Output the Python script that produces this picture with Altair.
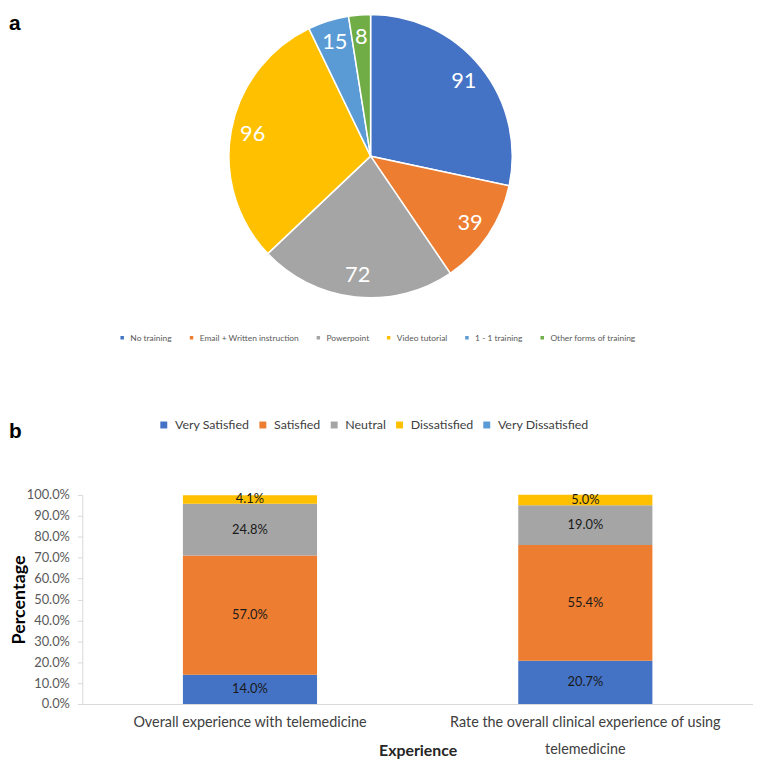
import altair as alt
import pandas as pd

FONT = "Lato"

# ---- panel a: training pie ----
training = ["No training", "Email + Written instruction", "Powerpoint",
            "Video tutorial", "1 - 1 training", "Other forms of training"]
training_counts = [91, 39, 72, 96, 15, 8]
training_colors = ["#4472C4", "#ED7D31", "#A5A5A5", "#FFC000", "#5B9BD5", "#70AD47"]

# ---- panel b: satisfaction stacked bars ----
questions = ["Overall experience with telemedicine",
             "Rate the overall clinical experience of using telemedicine"]
ratings = ["Very Satisfied", "Satisfied", "Neutral", "Dissatisfied", "Very Dissatisfied"]
rating_colors = ["#4472C4", "#ED7D31", "#A5A5A5", "#FFC000", "#5B9BD5"]
q1_pct = [14.0, 57.0, 24.8, 4.1, 0.0]
q2_pct = [20.7, 55.4, 19.0, 5.0, 0.0]
y_ticks = [0.0, 0.1, 0.2, 0.3, 0.4, 0.5, 0.6, 0.7, 0.8, 0.9, 1.0]

pie_df = pd.DataFrame({"Training": training, "Count": training_counts,
                       "Order": list(range(len(training)))})

rows = []
for q, vals in zip(questions, [q1_pct, q2_pct]):
    for i, (r, v) in enumerate(zip(ratings, vals)):
        rows.append({"Question": q, "Rating": r, "RatingOrder": i, "Value": v / 100.0})
bar_df = pd.DataFrame(rows)

CX, CY, R = 291, 143, 143

pie_base = alt.Chart(pie_df).encode(
    theta=alt.Theta("Count:Q", stack=True),
    order=alt.Order("Order:Q"),
)
arcs = pie_base.mark_arc(outerRadius=R, stroke="white", strokeWidth=1.5).encode(
    x=alt.value(CX), y=alt.value(CY),
    color=alt.Color("Training:N", sort=training,
                    scale=alt.Scale(domain=training, range=training_colors),
                    legend=alt.Legend(title=None, orient="none", direction="horizontal",
                                      columns=6, legendX=36, legendY=322,
                                      symbolType="square", symbolSize=25,
                                      labelFontSize=8.5, labelColor="#595959",
                                      labelFont=FONT, columnPadding=13, padding=0,
                                      labelOffset=4)),
)
pie_labels = pie_base.mark_text(radius=121, fontSize=22, font=FONT, color="white").encode(
    x=alt.value(CX), y=alt.value(CY), text=alt.Text("Count:Q"),
)
tag_a = alt.Chart(alt.Data(values=[{"t": "a"}])).mark_text(
    text="a", fontSize=21, fontWeight="bold", font="Liberation Sans", align="left",
    baseline="alphabetic", color="#000").encode(x=alt.value(-74), y=alt.value(16))
tag_b = alt.Chart(alt.Data(values=[{"t": "b"}])).mark_text(
    text="b", fontSize=21, fontWeight="bold", font="Liberation Sans", align="left",
    baseline="alphabetic", color="#000").encode(x=alt.value(-74), y=alt.value(427))

panel_a = alt.layer(arcs, pie_labels, tag_a, tag_b).properties(width=677, height=485)

x_axis = alt.Axis(title="Experience", titleFont=FONT, titleFontSize=16,
                  titleFontWeight="bold", titleColor="#262626",
                  titleBaseline="middle", titleY=47,
                  labelAngle=0, labelFont=FONT, labelFontSize=14.5,
                  labelColor="#404040", labelPadding=12, labelLineHeight=27,
                  labelBaseline="top", ticks=False, domainColor="#D9D9D9",
                  labelExpr="datum.value == 'Rate the overall clinical experience of using telemedicine' ? ['Rate the overall clinical experience of using', 'telemedicine'] : datum.value",
                  labelLimit=400)
y_axis = alt.Axis(title="Percentage", titleFont=FONT, titleFontSize=18,
                  titleFontWeight="bold", titleColor="#000",
                  titleX=-63, titleY=105.5, titleBaseline="middle",
                  titleAlign="center", titleAngle=-90,
                  format=".1%", values=y_ticks, tickCount=11,
                  labelOverlap=False,
                  labelFont=FONT, labelFontSize=13, labelColor="#595959",
                  labelPadding=8, tickSize=5, tickColor="#D9D9D9",
                  domainColor="#D9D9D9", grid=False)
x_scale = alt.Scale(paddingInner=0.6, paddingOuter=0.3)
y_scale = alt.Scale(domain=[0, 1], nice=False)

bars = alt.Chart(bar_df).mark_bar().encode(
    x=alt.X("Question:N", sort=questions, scale=x_scale, axis=x_axis),
    y=alt.Y("Value:Q", stack="zero", scale=y_scale, axis=y_axis),
    color=alt.Color("Rating:N", sort=ratings,
                    scale=alt.Scale(domain=ratings, range=rating_colors),
                    legend=alt.Legend(title=None, orient="none", direction="horizontal",
                                      columns=5, legendX=76, legendY=-77,
                                      symbolType="square", symbolSize=49,
                                      labelFontSize=12.5, labelColor="#404040",
                                      labelFont=FONT, columnPadding=7, padding=0,
                                      labelOffset=5)),
    order=alt.Order("RatingOrder:Q"),
)

bar_text = alt.Chart(bar_df).transform_filter("datum.Value > 0").transform_stack(
    stack="Value", groupby=["Question"], as_=["y0", "y1"],
    sort=[alt.SortField("RatingOrder", order="ascending")]
).transform_calculate(mid="(datum.y0 + datum.y1) / 2").mark_text(
    fontSize=13, font=FONT, color="#1a1a1a"
).encode(
    x=alt.X("Question:N", sort=questions, scale=x_scale, axis=x_axis),
    y=alt.Y("mid:Q", scale=y_scale, axis=y_axis),
    text=alt.Text("Value:Q", format=".1%"),
)

panel_b = alt.layer(bars, bar_text).properties(width=677, height=211)

chart = alt.vconcat(panel_a, panel_b, spacing=0, bounds="flush").resolve_scale(
    color="independent", theta="independent"
).properties(
    autosize=alt.AutoSizeParams(type="pad"),
    padding={"left": 1, "top": 0, "right": 0, "bottom": 0},
).configure_view(stroke=None)

chart.save("out.html", embed_options={"renderer": "svg", "actions": False})
